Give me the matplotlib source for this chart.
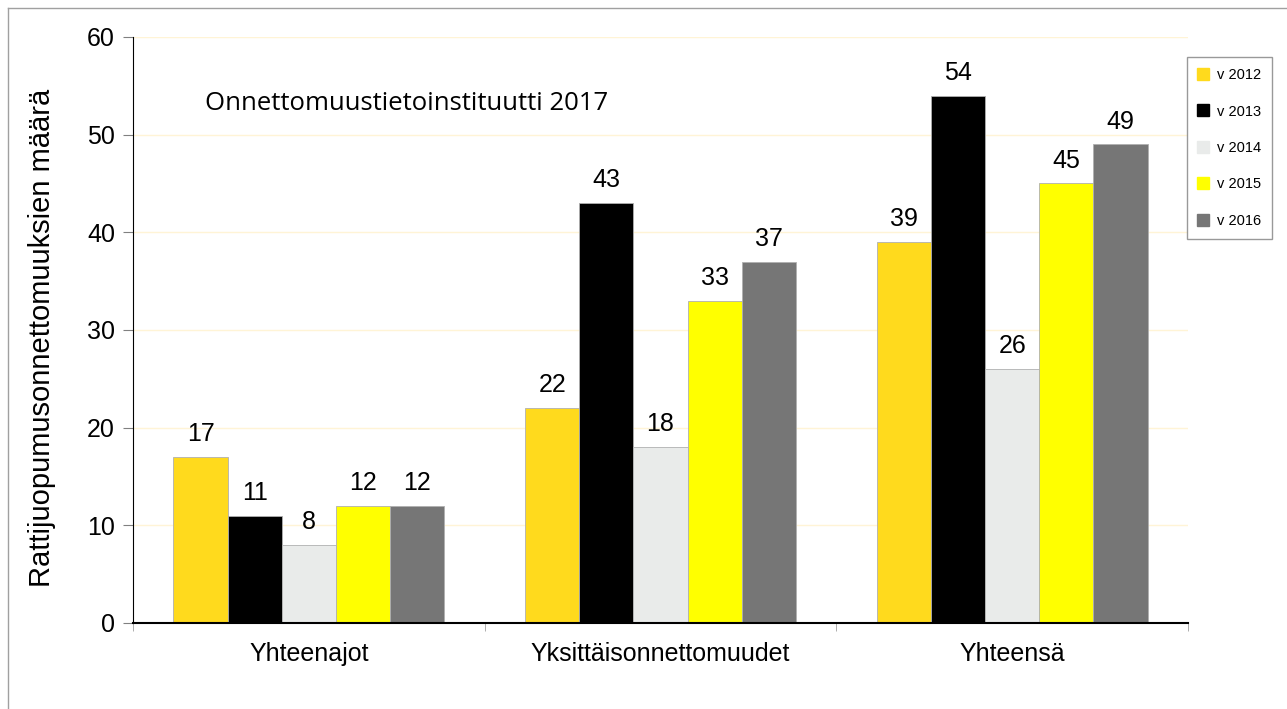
import numpy as np
import matplotlib.pyplot as plt
from matplotlib.lines import Line2D

categories = ["Yhteenajot", "Yksittäisonnettomuudet", "Yhteensä"]
years = ["v 2012", "v 2013", "v 2014", "v 2015", "v 2016"]
values = {
    "v 2012": [17, 22, 39],
    "v 2013": [11, 43, 54],
    "v 2014": [8, 18, 26],
    "v 2015": [12, 33, 45],
    "v 2016": [12, 37, 49],
}
colors = ["#FFDA1D", "#000000", "#E9EBEA", "#FFFF00", "#767676"]

plt.rcParams['font.family'] = ['Liberation Sans', 'DejaVu Sans']

fig = plt.figure(figsize=(12.87, 7.09), dpi=100)
ax = fig.add_axes([133 / 1287, 1 - 623 / 709, (1188 - 133) / 1287, (623 - 37) / 709])

x = np.arange(len(categories))
width = 0.154
for i, (yr, col) in enumerate(zip(years, colors)):
    pos = x + (i - 2) * width
    bars = ax.bar(pos, values[yr], width, color=col, edgecolor="#B0B0B0",
                  linewidth=0.6, label=yr, zorder=2)
    for b, v in zip(bars, values[yr]):
        ax.text(b.get_x() + b.get_width() / 2, v + 1.1, str(v),
                ha="center", va="bottom", fontsize=18)

ax.set_xlim(-0.5, 2.5)
ax.set_ylim(0, 60)
ax.set_yticks(range(0, 61, 10))
ax.set_xticks(x)
ax.set_xticklabels(categories, fontsize=18)
ax.set_xticks([-0.5, 0.5, 1.5, 2.5], minor=True)
ax.tick_params(axis="x", which="major", length=0, pad=14)
ax.tick_params(axis="x", which="minor", length=6, color="#A0A0A0")
ax.tick_params(axis="y", labelsize=18, length=7, color="#808080", pad=6)
ax.grid(axis="y", color="#FFF4D6", linewidth=1, zorder=0)
for s in ["top", "right"]:
    ax.spines[s].set_visible(False)
ax.spines["left"].set_color("black")
ax.spines["bottom"].set_color("black")
ax.spines["bottom"].set_linewidth(1.5)

fig.text(42 / 1287, 1 - 338 / 709, "Rattijuopumusonnettomuuksien määrä",
         rotation=90, fontsize=21, ha="center", va="center")

ax.text(205 / 1287, 1 - 103 / 709, "Onnettomuustietoinstituutti 2017",
        transform=fig.transFigure, fontsize=18.5, family=["Open Sans", "DejaVu Sans"],
        va="center", ha="left")

handles = [Line2D([], [], marker="s", linestyle="", markersize=8,
                  markerfacecolor=c, markeredgecolor=c) for c in colors]
leg = fig.legend(handles, years, loc="upper left",
                 bbox_to_anchor=(1187 / 1287, 1 - 57 / 709), fontsize=10.5,
                 frameon=True, fancybox=False, edgecolor="#808080",
                 labelspacing=1.54, handlelength=0.7, handletextpad=0.6,
                 borderpad=0.76, borderaxespad=0)
leg.get_frame().set_linewidth(1)

fig.add_artist(Line2D([8 / 1287, 8 / 1287], [0, 1 - 8 / 709], color="#A0A0A0", lw=1))
fig.add_artist(Line2D([8 / 1287, 1], [1 - 8 / 709, 1 - 8 / 709], color="#A0A0A0", lw=1))

fig.savefig("out.png", dpi=100)
